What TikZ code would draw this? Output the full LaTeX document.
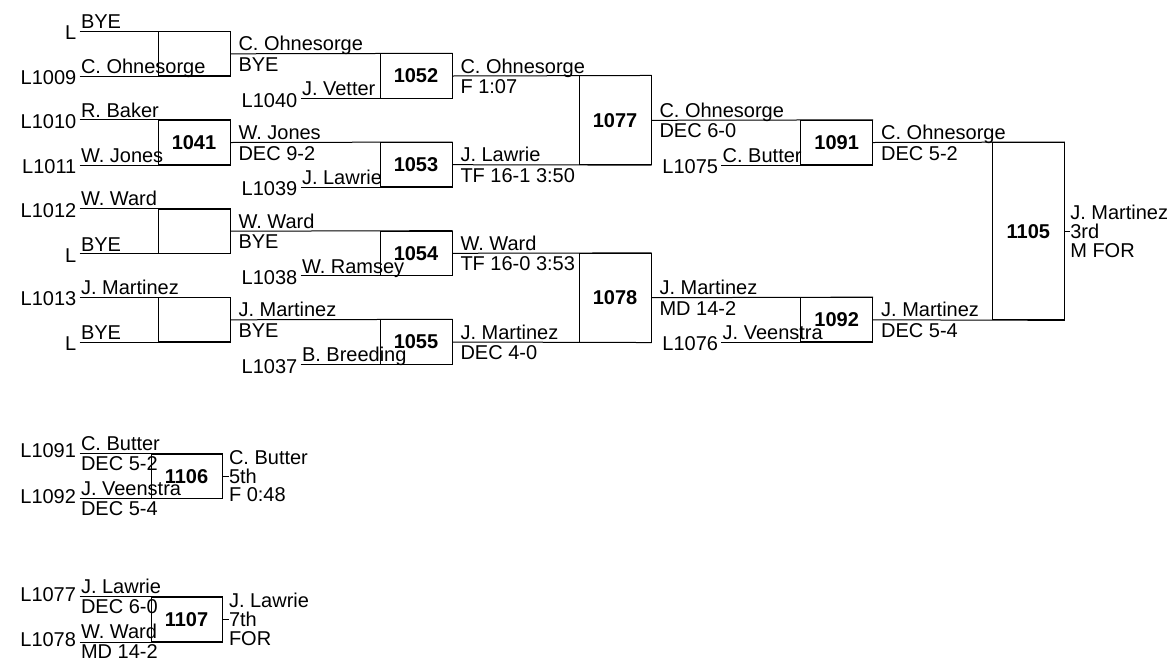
\documentclass[tikz,border=0pt]{standalone}
\usepackage{fontspec}
\setmainfont{Liberation Sans}
\usetikzlibrary{positioning,calc}
\newcommand*{\brkfont}{\fontsize{20}{18.8}\selectfont}
\tikzset{
  bx/.style={draw,minimum width=72pt,minimum height=44.33pt,inner sep=0pt,font=\brkfont\bfseries},
  lbl/.style={inner sep=0pt},
}
% winner above the line, result below
\newcommand*{\matchout}[3]{%
  \node[lbl,anchor=base west] (#1-w) at ($(#1.east)+(7.5,-3)$) {#2};
  \node[lbl,anchor=base west] (#1-r) at ($(#1.east)+(7.5,17.6)$) {#3};}
% seed label left of the line, wrestler above it
\newcommand*{\seedin}[3]{%
  \node[lbl,anchor=base east] (#1l) at ($(#1)+(-2.7,8.5)$) {#2};
  \node[lbl,anchor=base west] (#1n) at ($(#1)+(1,-2.8)$) {#3};}
% same, with the result under the line
\newcommand*{\seedres}[4]{%
  \node[lbl,anchor=base east] (#1l) at ($(#1)+(-3,4.3)$) {#2};
  \node[lbl,anchor=base west] (#1n) at ($(#1)+(1,-3.5)$) {#3};
  \node[lbl,anchor=base west] (#1r) at ($(#1)+(1,16.6)$) {#4};}

\begin{document}
\begin{tikzpicture}[x=1pt,y=-1pt,line width=1pt,font=\brkfont]
\useasboundingbox (0,0) rectangle (1173,662);

% first round
\node[bx] (Ma) at (194,53.8) {};
\node[bx] (M1041) at (194,142.5) {1041};
\node[bx] (Mc) at (194,231.2) {};
\node[bx] (Md) at (194,319.8) {};
\coordinate (Ma-t) at ($(Ma.north west)+(-78,0)$);
\coordinate (Ma-b) at ($(Ma.south west)+(-78,0)$);
\coordinate (M1041-t) at ($(M1041.north west)+(-78,0)$);
\coordinate (M1041-b) at ($(M1041.south west)+(-78,0)$);
\coordinate (Mc-t) at ($(Mc.north west)+(-78,0)$);
\coordinate (Mc-b) at ($(Mc.south west)+(-78,0)$);
\coordinate (Md-t) at ($(Md.north west)+(-78,0)$);
\coordinate (Md-b) at ($(Md.south west)+(-78,0)$);
\draw (Ma-t) -- (Ma.north east);
\draw (Ma-b) -- (Ma.south east);
\draw (M1041-t) -- (M1041.north east);
\draw (M1041-b) -- (M1041.south east);
\draw (Mc-t) -- (Mc.north east);
\draw (Mc-b) -- (Mc.south east);
\draw (Md-t) -- (Md.north east);
\draw (Md-b) -- (Md.south east);
\seedin{Ma-t}{L}{BYE}
\seedin{Ma-b}{L1009}{C. Ohnesorge}
\seedin{M1041-t}{L1010}{R. Baker}
\seedin{M1041-b}{L1011}{W. Jones}
\seedin{Mc-t}{L1012}{W. Ward}
\seedin{Mc-b}{L}{BYE}
\seedin{Md-t}{L1013}{J. Martinez}
\seedin{Md-b}{L}{BYE}

% second round
\node[bx] (M1052) at (416,76) {1052};
\node[bx] (M1053) at (416,164.7) {1053};
\node[bx] (M1054) at (416,253.3) {1054};
\node[bx] (M1055) at (416,342) {1055};
\draw (Ma.east) -- (M1052.north east);
\draw (M1041.east) -- (M1053.north east);
\draw (Mc.east) -- (M1054.north east);
\draw (Md.east) -- (M1055.north east);
\coordinate (M1052-b) at ($(M1052.south west)+(-79,0)$);
\coordinate (M1053-b) at ($(M1053.south west)+(-79,0)$);
\coordinate (M1054-b) at ($(M1054.south west)+(-79,0)$);
\coordinate (M1055-b) at ($(M1055.south west)+(-79,0)$);
\draw (M1052-b) -- (M1052.south east);
\draw (M1053-b) -- (M1053.south east);
\draw (M1054-b) -- (M1054.south east);
\draw (M1055-b) -- (M1055.south east);
\matchout{Ma}{C. Ohnesorge}{BYE}
\matchout{M1041}{W. Jones}{DEC 9-2}
\matchout{Mc}{W. Ward}{BYE}
\matchout{Md}{J. Martinez}{BYE}
\seedin{M1052-b}{L1040}{J. Vetter}
\seedin{M1053-b}{L1039}{J. Lawrie}
\seedin{M1054-b}{L1038}{W. Ramsey}
\seedin{M1055-b}{L1037}{B. Breeding}

% quarters
\node[bx,minimum height=88.67pt] (M1077) at (615,120.3) {1077};
\node[bx,minimum height=88.67pt] (M1078) at (615,297.7) {1078};
\draw (M1052.east) -- (M1077.north east);
\draw (M1053.east) -- (M1077.south east);
\draw (M1054.east) -- (M1078.north east);
\draw (M1055.east) -- (M1078.south east);
\matchout{M1052}{C. Ohnesorge}{F 1:07}
\matchout{M1053}{J. Lawrie}{TF 16-1 3:50}
\matchout{M1054}{W. Ward}{TF 16-0 3:53}
\matchout{M1055}{J. Martinez}{DEC 4-0}

% semis
\node[bx] (M1091) at (836.7,142.5) {1091};
\node[bx] (M1092) at (836.7,319.8) {1092};
\draw (M1077.east) -- (M1091.north east);
\draw (M1078.east) -- (M1092.north east);
\coordinate (M1091-b) at ($(M1091.south west)+(-79,0)$);
\coordinate (M1092-b) at ($(M1092.south west)+(-79,0)$);
\draw (M1091-b) -- (M1091.south east);
\draw (M1092-b) -- (M1092.south east);
\matchout{M1077}{C. Ohnesorge}{DEC 6-0}
\matchout{M1078}{J. Martinez}{MD 14-2}
\seedin{M1091-b}{L1075}{C. Butter}
\seedin{M1092-b}{L1076}{J. Veenstra}

% third place
\node[bx,minimum height=177.3pt] (M1105) at (1028.3,231.2) {1105};
\draw (M1091.east) -- (M1105.north east);
\draw (M1092.east) -- (M1105.south east);
\matchout{M1091}{C. Ohnesorge}{DEC 5-2}
\matchout{M1092}{J. Martinez}{DEC 5-4}
\node[lbl,anchor=west,align=left] (O1105) at ($(M1105.east)+(5,0)$) {J. Martinez\\3rd\\M FOR};
\draw (M1105.east) -- (O1105.west);

% fifth and seventh place
\node[bx,minimum width=71pt] (M1106) at (186.5,476.3) {1106};
\node[bx,minimum width=71pt] (M1107) at (186.5,619.5) {1107};
\coordinate (M1106-t) at ($(M1106.north west)+(-71,0)$);
\coordinate (M1106-b) at ($(M1106.south west)+(-71,0)$);
\coordinate (M1107-t) at ($(M1107.north west)+(-71,0)$);
\coordinate (M1107-b) at ($(M1107.south west)+(-71,0)$);
\draw (M1106-t) -- (M1106.north east);
\draw (M1106-b) -- (M1106.south east);
\draw (M1107-t) -- (M1107.north east);
\draw (M1107-b) -- (M1107.south east);
\seedres{M1106-t}{L1091}{C. Butter}{DEC 5-2}
\seedres{M1106-b}{L1092}{J. Veenstra}{DEC 5-4}
\seedres{M1107-t}{L1077}{J. Lawrie}{DEC 6-0}
\seedres{M1107-b}{L1078}{W. Ward}{MD 14-2}
\node[lbl,anchor=west,align=left] (O1106) at ($(M1106.east)+(6,0)$) {C. Butter\\5th\\F 0:48};
\draw (M1106.east) -- (O1106.west);
\node[lbl,anchor=west,align=left] (O1107) at ($(M1107.east)+(6,0)$) {J. Lawrie\\7th\\FOR};
\draw (M1107.east) -- (O1107.west);
\end{tikzpicture}
\end{document}
